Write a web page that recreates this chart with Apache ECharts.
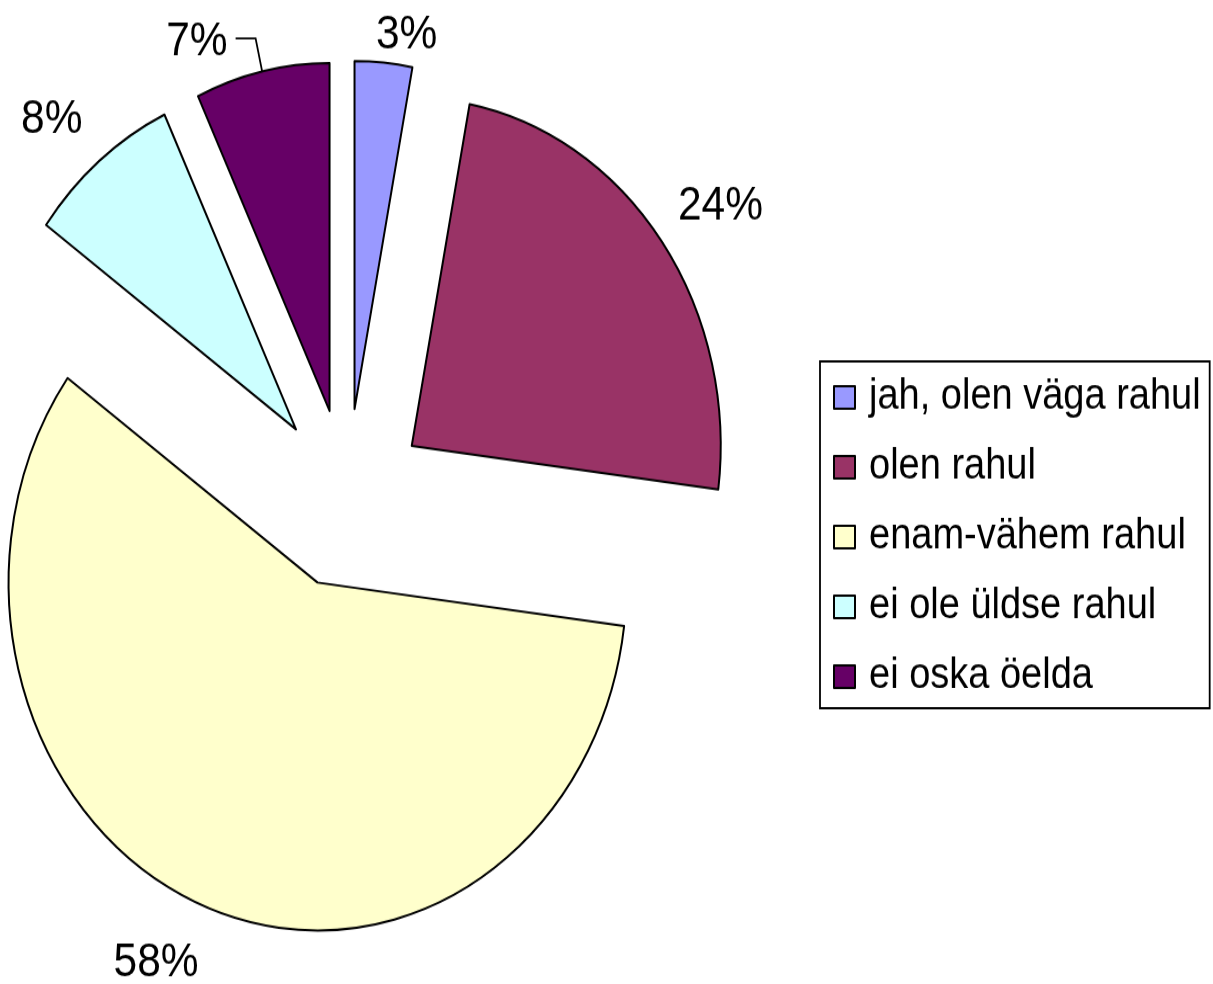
<!DOCTYPE html>
<html>
<head>
<meta charset="utf-8">
<script src="https://cdn.jsdelivr.net/npm/echarts@6/dist/echarts.min.js"></script>
<style>
  html, body { margin: 0; padding: 0; background: #fff; width: 1213px; height: 984px; overflow: hidden; }
  #wrap { width: 1213px; height: 984px; overflow: hidden; }
  /* source picture is stretched vertically, so the chart is drawn flat and scaled */
  #chart { width: 1213px; height: 874px; transform: scaleY(1.1259); transform-origin: 0 0; }
</style>
</head>
<body>
<div id="wrap"><div id="chart"></div></div>
<script>
// data
const categories = ['jah, olen väga rahul', 'olen rahul', 'enam-vähem rahul', 'ei ole üldse rahul', 'ei oska öelda']
const shares = [3, 24, 58, 8, 7]
const colors = ['#9999FF', '#993366', '#FFFFCC', '#CCFFFF', '#660066']

// label line lengths per slice (only the last one shows its line)
const lineLen = [25, 30, 55, 40, 30]
const lineLen2 = [0, 0, 0, 0, 20]
// small label nudges so they sit like in the original
const nudgeX = [-15, -13, 20, 14, -3]
const nudgeY = [0, -13, -1, -6, 3]

const font = '"Liberation Sans", Arial, sans-serif'

const chart = echarts.init(document.getElementById('chart'))

const option = {
    animation: false,
    color: colors,
    legend: {
        orient: 'vertical',
        left: 820,
        top: 321,
        padding: [12, 9, 8, 13],
        itemGap: 22,
        itemWidth: 21,
        itemHeight: 20,
        icon: 'rect',
        borderColor: '#000',
        borderWidth: 1.8,
        selectedMode: false,
        textStyle: {
            fontFamily: font,
            fontSize: 38,
            lineHeight: 40,
            color: '#000',
            padding: [0, 0, 0, 9],
        },
        data: categories,
    },
    series: [
        {
            type: 'pie',
            center: [347, 443],
            radius: 309,
            startAngle: 90,
            clockwise: true,
            avoidLabelOverlap: false,
            selectedMode: 'multiple',
            selectedOffset: 80,
            itemStyle: {
                borderColor: '#000',
                borderWidth: 2,
            },
            label: {
                position: 'outside',
                formatter: '{c}%',
                fontFamily: font,
                fontSize: 42.5,
                color: '#000',
            },
            labelLayout: (p) => ({ dx: nudgeX[p.dataIndex], dy: nudgeY[p.dataIndex] }),
            emphasis: { disabled: true },
            select: { itemStyle: { borderColor: '#000', borderWidth: 2 } },
            data: categories.map((name, i) => ({
                name: name,
                value: shares[i],
                selected: true,
                select: { itemStyle: { color: colors[i] } },
                labelLine: {
                    show: lineLen2[i] > 0,
                    length: lineLen[i],
                    length2: lineLen2[i],
                    lineStyle: { color: '#000', width: 1.8 },
                },
            })),
        },
    ],
}

chart.setOption(option)
</script>
</body>
</html>
